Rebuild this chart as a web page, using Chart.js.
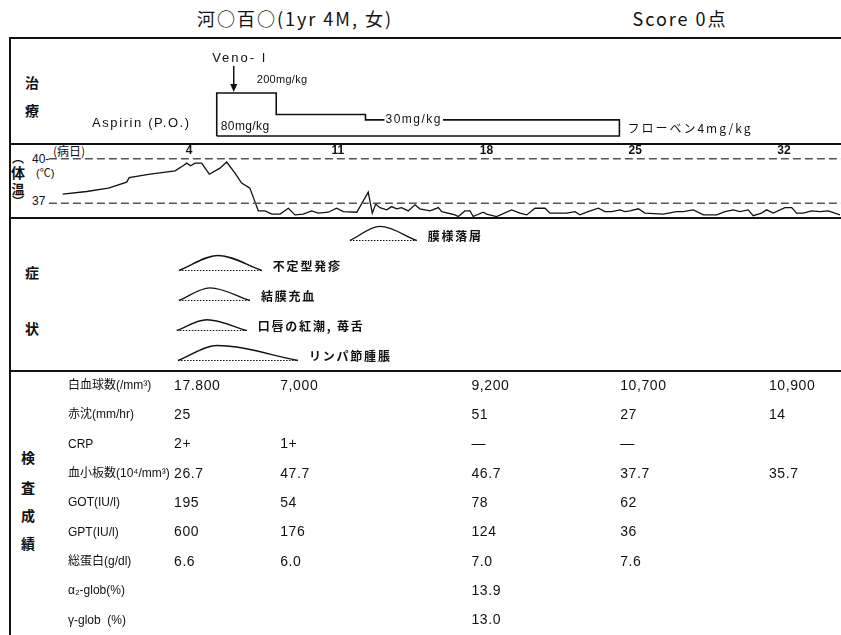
<!DOCTYPE html>
<html lang="ja">
<head>
<meta charset="utf-8">
<title>経過表</title>
<script src="https://cdn.jsdelivr.net/npm/chart.js@4.4.1/dist/chart.umd.min.js"></script>
<style>
body { margin: 0; background: #fff; }
#sheet { position: relative; width: 841px; height: 635px; overflow: hidden; color: #111;
         font-family: "Liberation Sans", "Noto Sans CJK JP", sans-serif; }
.t { position: absolute; white-space: nowrap; line-height: 1; transform: translateY(-50%); }
.c { position: absolute; white-space: nowrap; line-height: 1; transform: translate(-50%, -50%); }
.jp { font-family: "Noto Sans CJK JP", sans-serif; font-weight: bold; }
.hl { position: absolute; left: 10px; right: 0; background: #111; }
.vl { position: absolute; background: #111; }
canvas { position: absolute; left: 10px; }
</style>
</head>
<body>
<div id="sheet">
    <div class="c jp" style="left:295px; top:18px; font-size:18px; font-weight:normal; letter-spacing:2px">河○百○(1yr 4M, 女)</div>
    <div class="c jp" style="left:680px; top:18px; font-size:18px; font-weight:normal; letter-spacing:2px">Score 0点</div>

    <!-- frame -->
    <div class="hl" style="top:37px; height:2px"></div>
    <div class="hl" style="top:143px; height:2px"></div>
    <div class="hl" style="top:217px; height:2px"></div>
    <div class="hl" style="top:370px; height:2px"></div>
    <div class="vl" style="left:9px; top:37px; width:2px; height:598px"></div>

    <!-- section titles -->
    <div class="c jp" style="left:32px; top:82px; font-size:14px">治</div>
    <div class="c jp" style="left:32px; top:110px; font-size:14px">療</div>
    <div class="c jp" style="left:32px; top:272px; font-size:14px">症</div>
    <div class="c jp" style="left:32px; top:328px; font-size:14px">状</div>
    <div class="c jp" style="left:28px; top:457px; font-size:14px">検</div>
    <div class="c jp" style="left:28px; top:487px; font-size:14px">査</div>
    <div class="c jp" style="left:28px; top:515px; font-size:14px">成</div>
    <div class="c jp" style="left:28px; top:543px; font-size:14px">績</div>

    <div class="c jp" style="left:18px; top:158px; font-size:12px">︵</div>
    <div class="c jp" style="left:18px; top:172px; font-size:14px">体</div>
    <div class="c jp" style="left:18px; top:188px; font-size:13px">温</div>
    <div class="c jp" style="left:18px; top:201px; font-size:12px">︶</div>
    <div class="t" style="left:36px; top:173px; font-size:11px">(℃)</div>
    <div class="t" style="left:32px; top:159px; font-size:12px">40-</div>
    <div class="t" style="left:32px; top:201px; font-size:12px">37</div>
    <div class="t jp" style="left:53px; top:151px; font-size:12px; font-weight:normal">(病日)</div>

    <canvas id="treat" width="831" height="106" style="top:38px"></canvas>
    <canvas id="temp" width="831" height="74" style="top:144px"></canvas>
    <canvas id="symp" width="831" height="153" style="top:218px"></canvas>
    <canvas id="lab" width="831" height="264" style="top:371px"></canvas>
</div>

<script>
// day range shown across the sheet
var xMin = -4.33;
var xMax = 34.78;
var dayTicks = [4, 11, 18, 25, 32];

// treatment
var aspirinDays = [5.4, 8.2, 12.4, 24.35];
var aspirinDose = [80, 40, 30];
var aspirinText = ["80mg/kg", "", "30mg/kg"];
var venoDay = 6.2;
var venoDose = "200mg/kg";
var afterText = "フローベン4mg/kg";

// body temperature
var tempDay = [-1.85,-0.72,0.30,1.16,1.28,2.26,3.44,3.83,3.99,4.17,
    4.38,4.69,5.05,5.55,5.87,6.26,6.57,6.96,7.28,7.36,
    7.67,7.99,8.38,8.77,9.08,9.47,9.87,10.18,10.65,11.04,
    11.36,11.99,12.53,12.72,12.88,13.08,13.40,13.63,13.87,14.10,
    14.41,14.73,14.96,15.44,15.83,15.99,16.61,16.77,17.08,17.32,
    17.47,17.94,18.10,18.57,19.28,19.67,19.99,20.38,20.85,21.08,
    21.87,22.26,22.49,22.88,23.36,23.67,23.99,24.38,24.61,24.85,
    25.24,25.55,26.41,27.04,27.36,27.83,28.30,28.93,29.32,29.71,
    30.02,30.41,30.65,31.04,31.28,31.59,32.14,32.46,32.69,33.00,
    33.40,33.79,34.18,34.73];
var tempC = [37.61,37.79,38.02,38.42,38.73,38.96,39.19,39.55,39.71,39.53,
    39.71,39.71,38.96,39.37,39.78,39.03,38.36,38.02,36.77,36.48,
    36.48,36.26,36.26,36.66,36.21,36.26,36.48,36.33,36.39,36.66,
    36.43,36.39,37.75,36.33,36.94,36.70,36.55,36.77,36.62,36.70,
    36.48,36.89,36.62,36.48,36.70,36.43,36.21,36.10,36.48,36.48,
    36.10,36.39,36.26,36.10,36.55,36.33,36.21,36.66,36.66,36.33,
    36.33,36.43,36.21,36.43,36.66,36.43,36.43,36.55,36.43,36.48,
    36.62,36.33,36.26,36.43,36.43,36.55,36.21,36.21,36.43,36.55,
    36.43,36.55,36.16,36.33,36.55,36.33,36.70,36.70,36.33,36.33,
    36.48,36.43,36.48,36.21];
var refTemps = [40, 37];
var refStart = -2.5;

// symptoms (top row first)
var symptomNames = ["膜様落屑", "不定型発疹", "結膜充血", "口唇の紅潮, 苺舌", "リンパ節腫脹"];
var symptomStart = [11.67, 3.62, 3.62, 3.52, 3.58];
var symptomPeak = [13.08, 5.46, 5.08, 4.93, 5.40];
var symptomEnd = [14.81, 7.52, 6.96, 6.81, 9.22];
var symptomLevel = [0.47, 0.5, 0.42, 0.36, 0.5];

// laboratory data
var labDays = [4, 9, 18, 25, 32];
var labNames = ["白血球数(/mm³)", "赤沈(mm/hr)", "CRP", "血小板数(10⁴/mm³)", "GOT(IU/l)",
    "GPT(IU/l)", "総蛋白(g/dl)", "α₂-glob(%)", "γ-glob  (%)"];
var wbc = ["17.800", "7,000", "9,200", "10,700", "10,900"];
var esr = ["25", "", "51", "27", "14"];
var crp = ["2+", "1+", "—", "—", ""];
var plt = ["26.7", "47.7", "46.7", "37.7", "35.7"];
var got = ["195", "54", "78", "62", ""];
var gpt = ["600", "176", "124", "36", ""];
var tp = ["6.6", "6.0", "7.0", "7.6", ""];
var a2glob = ["", "", "13.9", "", ""];
var gglob = ["", "", "13.0", "", ""];
var labRows = [wbc, esr, crp, plt, got, gpt, tp, a2glob, gglob];

var ink = "#111";
var latin = '"Liberation Sans", "Noto Sans CJK JP", sans-serif';
var jp = '"Noto Sans CJK JP", sans-serif';

function makeChart(id, datasets, yOpts, plugin) {
    return new Chart(document.getElementById(id), {
        type: "line",
        data: {datasets: datasets},
        options: {
            responsive: false,
            animation: false,
            events: [],
            devicePixelRatio: 1,
            layout: {padding: 0},
            elements: {
                point: {radius: 0},
                line: {borderColor: ink, borderWidth: 1.3, tension: 0, fill: false}
            },
            plugins: {legend: {display: false}, tooltip: {enabled: false}},
            scales: {
                x: {type: "linear", min: xMin, max: xMax, display: false},
                y: Object.assign({display: false}, yOpts)
            }
        },
        plugins: plugin ? [plugin] : []
    });
}

function text(ctx, s, x, y, font, align, spacing) {
    ctx.font = font;
    ctx.textAlign = align || "left";
    ctx.textBaseline = "middle";
    ctx.letterSpacing = spacing || "0px";
    ctx.fillText(s, x, y);
}

// ---- treatment ----
var box = [{x: aspirinDays[0], y: 0}];
for (var i = 0; i < aspirinDose.length; i++) {
    box.push({x: aspirinDays[i], y: aspirinDose[i]});
    box.push({x: aspirinDays[i + 1], y: aspirinDose[i]});
}
box.push({x: aspirinDays[aspirinDays.length - 1], y: 0});
box.push({x: aspirinDays[0], y: 0});

makeChart("treat", [{data: box, borderWidth: 1.6}], {type: "linear", min: -14.9, max: 182.3}, {
    id: "treatText",
    afterDatasetsDraw: function (chart) {
        var ctx = chart.ctx, sx = chart.scales.x, sy = chart.scales.y;
        var top = sy.getPixelForValue(aspirinDose[0]);
        var base = sy.getPixelForValue(0);
        var vx = sx.getPixelForValue(venoDay);
        ctx.save();
        ctx.fillStyle = ink;
        ctx.strokeStyle = ink;
        ctx.lineWidth = 1.5;
        ctx.beginPath();
        ctx.moveTo(vx, top - 27);
        ctx.lineTo(vx, top - 6);
        ctx.stroke();
        ctx.beginPath();
        ctx.moveTo(vx, top - 1);
        ctx.lineTo(vx - 3.5, top - 9);
        ctx.lineTo(vx + 3.5, top - 9);
        ctx.closePath();
        ctx.fill();
        text(ctx, "Veno- I", vx + 6, top - 35, "13px " + latin, "center", "2px");
        text(ctx, venoDose, vx + 23, top - 13, "11px " + latin, "left", "0.3px");

        var x0 = sx.getPixelForValue(aspirinDays[0]);
        text(ctx, "Aspirin (P.O.)", x0 - 26, sy.getPixelForValue(aspirinDose[2]) + 4, "13px " + latin, "right", "1.6px");
        text(ctx, aspirinText[0], x0 + 4, base - 9, "12px " + latin, "left", "0.4px");

        // label sits on the 30mg/kg step, cutting the line
        var x2 = sx.getPixelForValue(aspirinDays[2]) + 20;
        var y2 = sy.getPixelForValue(aspirinDose[2]);
        ctx.font = "12px " + latin;
        ctx.letterSpacing = "1.5px";
        var w = ctx.measureText(aspirinText[2]).width;
        ctx.fillStyle = "#fff";
        ctx.fillRect(x2 - 1, y2 - 3, w + 2, 6);
        ctx.fillStyle = ink;
        text(ctx, aspirinText[2], x2, y2, "12px " + latin, "left", "1.5px");

        var x3 = sx.getPixelForValue(aspirinDays[3]);
        text(ctx, afterText, x3 + 8, base - 8, "12px " + jp, "left", "2px");
        ctx.restore();
    }
});

// ---- temperature ----
var tempData = tempDay.map(function (d, i) { return {x: d, y: tempC[i]}; });
var tempSets = refTemps.map(function (t) {
    return {data: [{x: refStart, y: t}, {x: xMax, y: t}], borderColor: "#555", borderWidth: 1.5, borderDash: [8, 4]};
});
tempSets.push({data: tempData, borderWidth: 1.3});

makeChart("temp", tempSets, {type: "linear", min: 36, max: 41}, {
    id: "dayTicks",
    afterDatasetsDraw: function (chart) {
        var ctx = chart.ctx, sx = chart.scales.x;
        ctx.save();
        ctx.fillStyle = ink;
        dayTicks.forEach(function (d) {
            text(ctx, String(d), sx.getPixelForValue(d) + 2, chart.chartArea.top + 7, "bold 12px " + latin, "center");
        });
        ctx.restore();
    }
});

// ---- symptoms ----
var sympSets = [];
symptomNames.forEach(function (name, i) {
    var base = symptomNames.length - 1 - i;
    sympSets.push({
        data: [{x: symptomStart[i], y: base}, {x: symptomPeak[i], y: base + symptomLevel[i]}, {x: symptomEnd[i], y: base}],
        cubicInterpolationMode: "monotone", borderWidth: 1.4
    });
    sympSets.push({
        data: [{x: symptomStart[i], y: base}, {x: symptomEnd[i], y: base}],
        borderWidth: 1.2, borderDash: [1.5, 1.5]
    });
});

makeChart("symp", sympSets, {type: "linear", min: -0.35, max: 4.75}, {
    id: "sympText",
    afterDatasetsDraw: function (chart) {
        var ctx = chart.ctx, sx = chart.scales.x, sy = chart.scales.y;
        ctx.save();
        ctx.fillStyle = ink;
        symptomNames.forEach(function (name, i) {
            var base = symptomNames.length - 1 - i;
            text(ctx, name, sx.getPixelForValue(symptomEnd[i]) + 11, sy.getPixelForValue(base) - 4,
                "bold 12px " + jp, "left", "1.8px");
        });
        ctx.restore();
    }
});

// ---- laboratory table ----
makeChart("lab", [], {type: "category", labels: labNames, offset: true}, {
    id: "labText",
    afterDatasetsDraw: function (chart) {
        var ctx = chart.ctx, sx = chart.scales.x, sy = chart.scales.y;
        ctx.save();
        ctx.fillStyle = ink;
        labNames.forEach(function (name, r) {
            var y = sy.getPixelForValue(r);
            text(ctx, name, 58, y, "12px " + latin, "left", "0px");
            labRows[r].forEach(function (v, c) {
                if (v) text(ctx, v, sx.getPixelForValue(labDays[c]) - 13, y, "14px " + latin, "left", "0.6px");
            });
        });
        ctx.restore();
    }
});
</script>
</body>
</html>
